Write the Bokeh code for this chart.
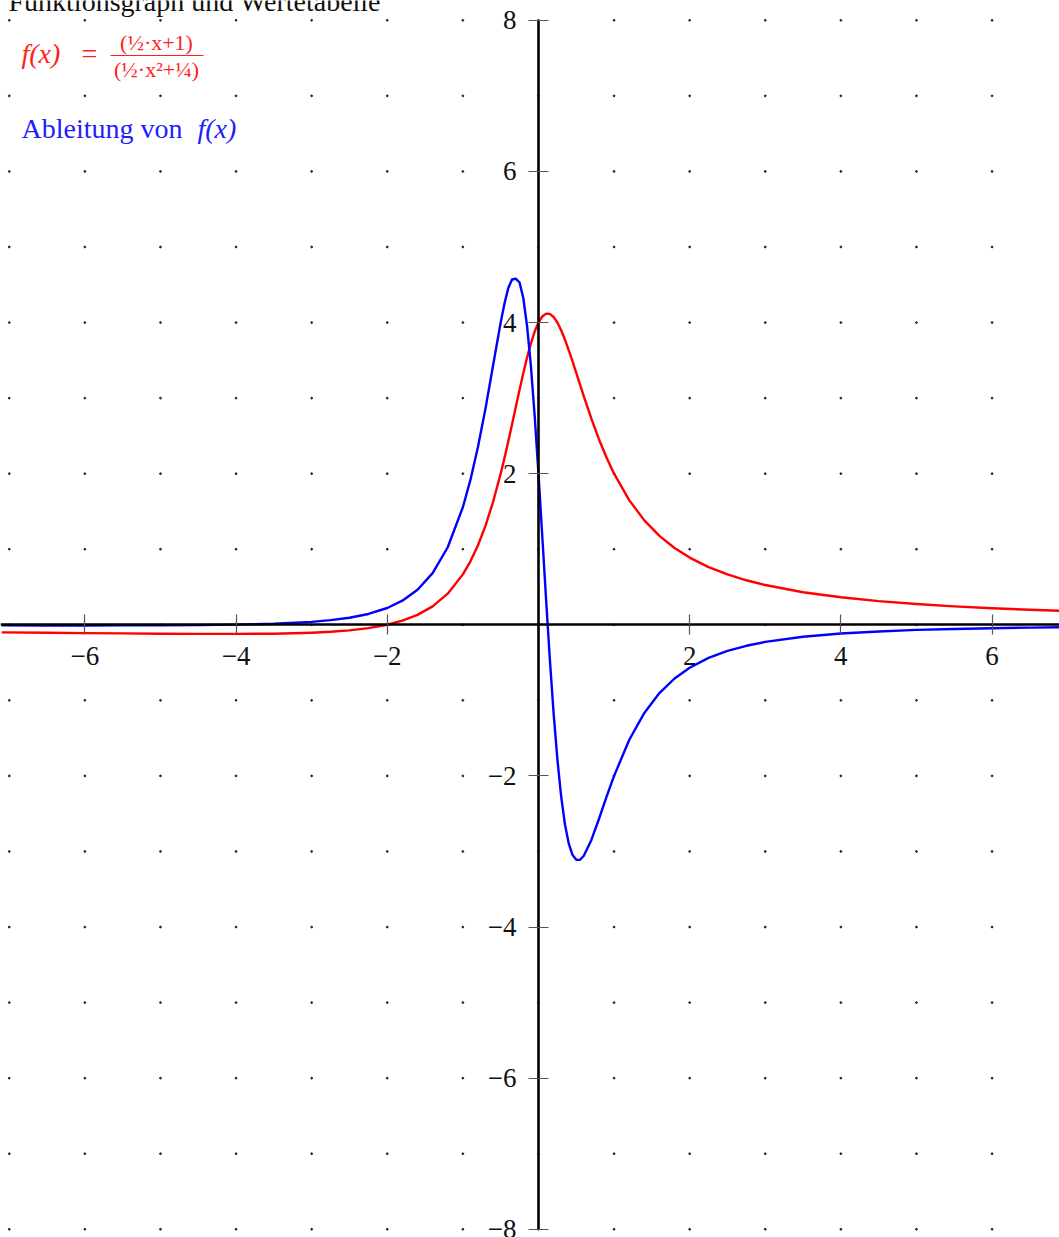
from bokeh.plotting import figure
from bokeh.models import Range1d, FixedTicker, Label
from bokeh.embed import file_html
from bokeh.resources import INLINE

# Sample points of f(x) = (1/2*x + 1) / (1/2*x^2 + 1/4) and its derivative
x_vals = [-7.1, -6.5, -6.0, -5.5, -5.0, -4.5, -4.0, -3.5, -3.0,
          -2.75, -2.5, -2.25, -2.0, -1.8, -1.6, -1.4, -1.2, -1.0,
          -0.9, -0.8, -0.7, -0.6, -0.5, -0.45, -0.4, -0.35, -0.3,
          -0.25, -0.2, -0.15, -0.1, -0.05, 0.0, 0.05, 0.1, 0.15,
          0.2, 0.25, 0.3, 0.35, 0.4, 0.45, 0.5, 0.55, 0.6,
          0.7, 0.8, 0.9, 1.0, 1.2, 1.4, 1.6, 1.8, 2.0,
          2.25, 2.5, 2.75, 3.0, 3.5, 4.0, 4.5, 5.0, 5.5, 6.0, 6.5, 7.0]

f_vals = [-0.100, -0.105, -0.110, -0.114, -0.118, -0.120, -0.121, -0.118, -0.105,
          -0.093, -0.074, -0.045, 0.0, 0.054, 0.131, 0.244, 0.412, 0.667,
          0.840, 1.053, 1.313, 1.628, 2.000, 2.206, 2.424, 2.651, 2.881,
          3.111, 3.333, 3.541, 3.725, 3.881, 4.000, 4.080, 4.118, 4.115,
          4.074, 4.000, 3.898, 3.775, 3.636, 3.488, 3.333, 3.178, 3.023,
          2.727, 2.456, 2.214, 2.000, 1.650, 1.382, 1.176, 1.016, 0.889,
          0.764, 0.667, 0.589, 0.526, 0.431, 0.364, 0.313, 0.275, 0.244, 0.219, 0.199, 0.182]

df_vals = [-0.008, -0.009, -0.009, -0.008, -0.007, -0.004, 0.002, 0.014, 0.039,
           0.061, 0.093, 0.143, 0.222, 0.319, 0.464, 0.684, 1.026, 1.556,
           1.917, 2.355, 2.867, 3.434, 4.000, 4.250, 4.454, 4.570, 4.580,
           4.530, 4.321, 3.947, 3.422, 2.762, 2.000, 1.178, 0.346, -0.449,
           -1.166, -1.778, -2.270, -2.639, -2.893, -3.045, -3.111, -3.110, -3.056,
           -2.847, -2.570, -2.279, -2.000, -1.525, -1.167, -0.904, -0.711, -0.568,
           -0.438, -0.346, -0.278, -0.227, -0.158, -0.116, -0.088, -0.068, -0.055, -0.045, -0.037, -0.031]

x_ticks = [-6, -4, -2, 2, 4, 6]
y_ticks = [-8, -6, -4, -2, 2, 4, 6, 8]
grid_x = list(range(-7, 8))
grid_y = list(range(-8, 9))

W, H = 1059, 1237
X0, X1 = -7.116, 6.892
Y0, Y1 = -8.109, 8.262

SERIF = "Liberation Serif"


def sx(px):
    return X0 + px / W * (X1 - X0)


def sy(py):
    return Y1 - py / H * (Y1 - Y0)


def text_at(px, baseline, text, size, color, italic=False, align="left"):
    # place a label by its left/centre x and its baseline, both in pixels from top-left
    shift = 0.33 * size
    return Label(x=sx(px), y=sy(baseline - shift), text=text, text_font=SERIF,
                 text_font_style="italic" if italic else "normal",
                 text_font_size=f"{size}px", text_color=color,
                 text_align=align, text_baseline="alphabetic")


def minus(t):
    return str(t).replace("-", "\u2212")


p = figure(width=W, height=H, x_range=Range1d(X0, X1), y_range=Range1d(Y0, Y1),
           output_backend="svg", toolbar_location=None, min_border=0,
           outline_line_color=None, background_fill_color="white")
p.grid.visible = False

# dotted lattice at every unit
gx = [a for a in grid_x for b in grid_y]
gy = [b for a in grid_x for b in grid_y]
p.scatter(gx, gy, size=1.8, color="#222222", marker="circle")

# curves
p.line(x_vals, f_vals, line_color="#ff0000", line_width=2.4, line_join="round")
p.line(x_vals, df_vals, line_color="#0000ff", line_width=2.4, line_join="round")

# axes through the origin
for ax, ticks in ((p.xaxis[0], x_ticks), (p.yaxis[0], y_ticks)):
    ax.fixed_location = 0
    ax.ticker = FixedTicker(ticks=ticks, minor_ticks=[])
    ax.major_label_overrides = {t: minus(t) for t in ticks}
    ax.axis_line_color = "black"
    ax.axis_line_width = 2.6
    ax.major_tick_line_color = "#555555"
    ax.major_tick_line_width = 1.2
    ax.major_tick_in = 10
    ax.major_tick_out = 10
    ax.minor_tick_line_color = None
    ax.major_label_text_font = SERIF
    ax.major_label_text_font_size = "27px"
    ax.major_label_text_color = "#111111"
p.xaxis.major_label_standoff = 12
p.yaxis.major_label_standoff = 12
p.yaxis.bounds = (-8, 8)

# heading and function legend
p.add_layout(text_at(8, 10, "Funktionsgraph und Wertetabelle", 28, "#111111"))

red = "#ff2020"
p.add_layout(text_at(21, 62, "f(x)", 28, red, italic=True))
p.add_layout(text_at(89, 62, "=", 28, red, align="center"))
p.add_layout(text_at(156, 49, "(\u00bd\u00b7x+1)", 22, red, align="center"))
p.add_layout(text_at(156, 76, "(\u00bd\u00b7x\u00b2+\u00bc)", 22, red, align="center"))
p.segment(x0=[sx(110)], y0=[sy(55)], x1=[sx(203)], y1=[sy(55)],
          line_color=red, line_width=1.2)

blue = "#2020ff"
p.add_layout(text_at(21, 137, "Ableitung von", 28, blue))
p.add_layout(text_at(197, 137, "f(x)", 28, blue, italic=True))

open("out.html", "w").write(file_html(p, INLINE))
